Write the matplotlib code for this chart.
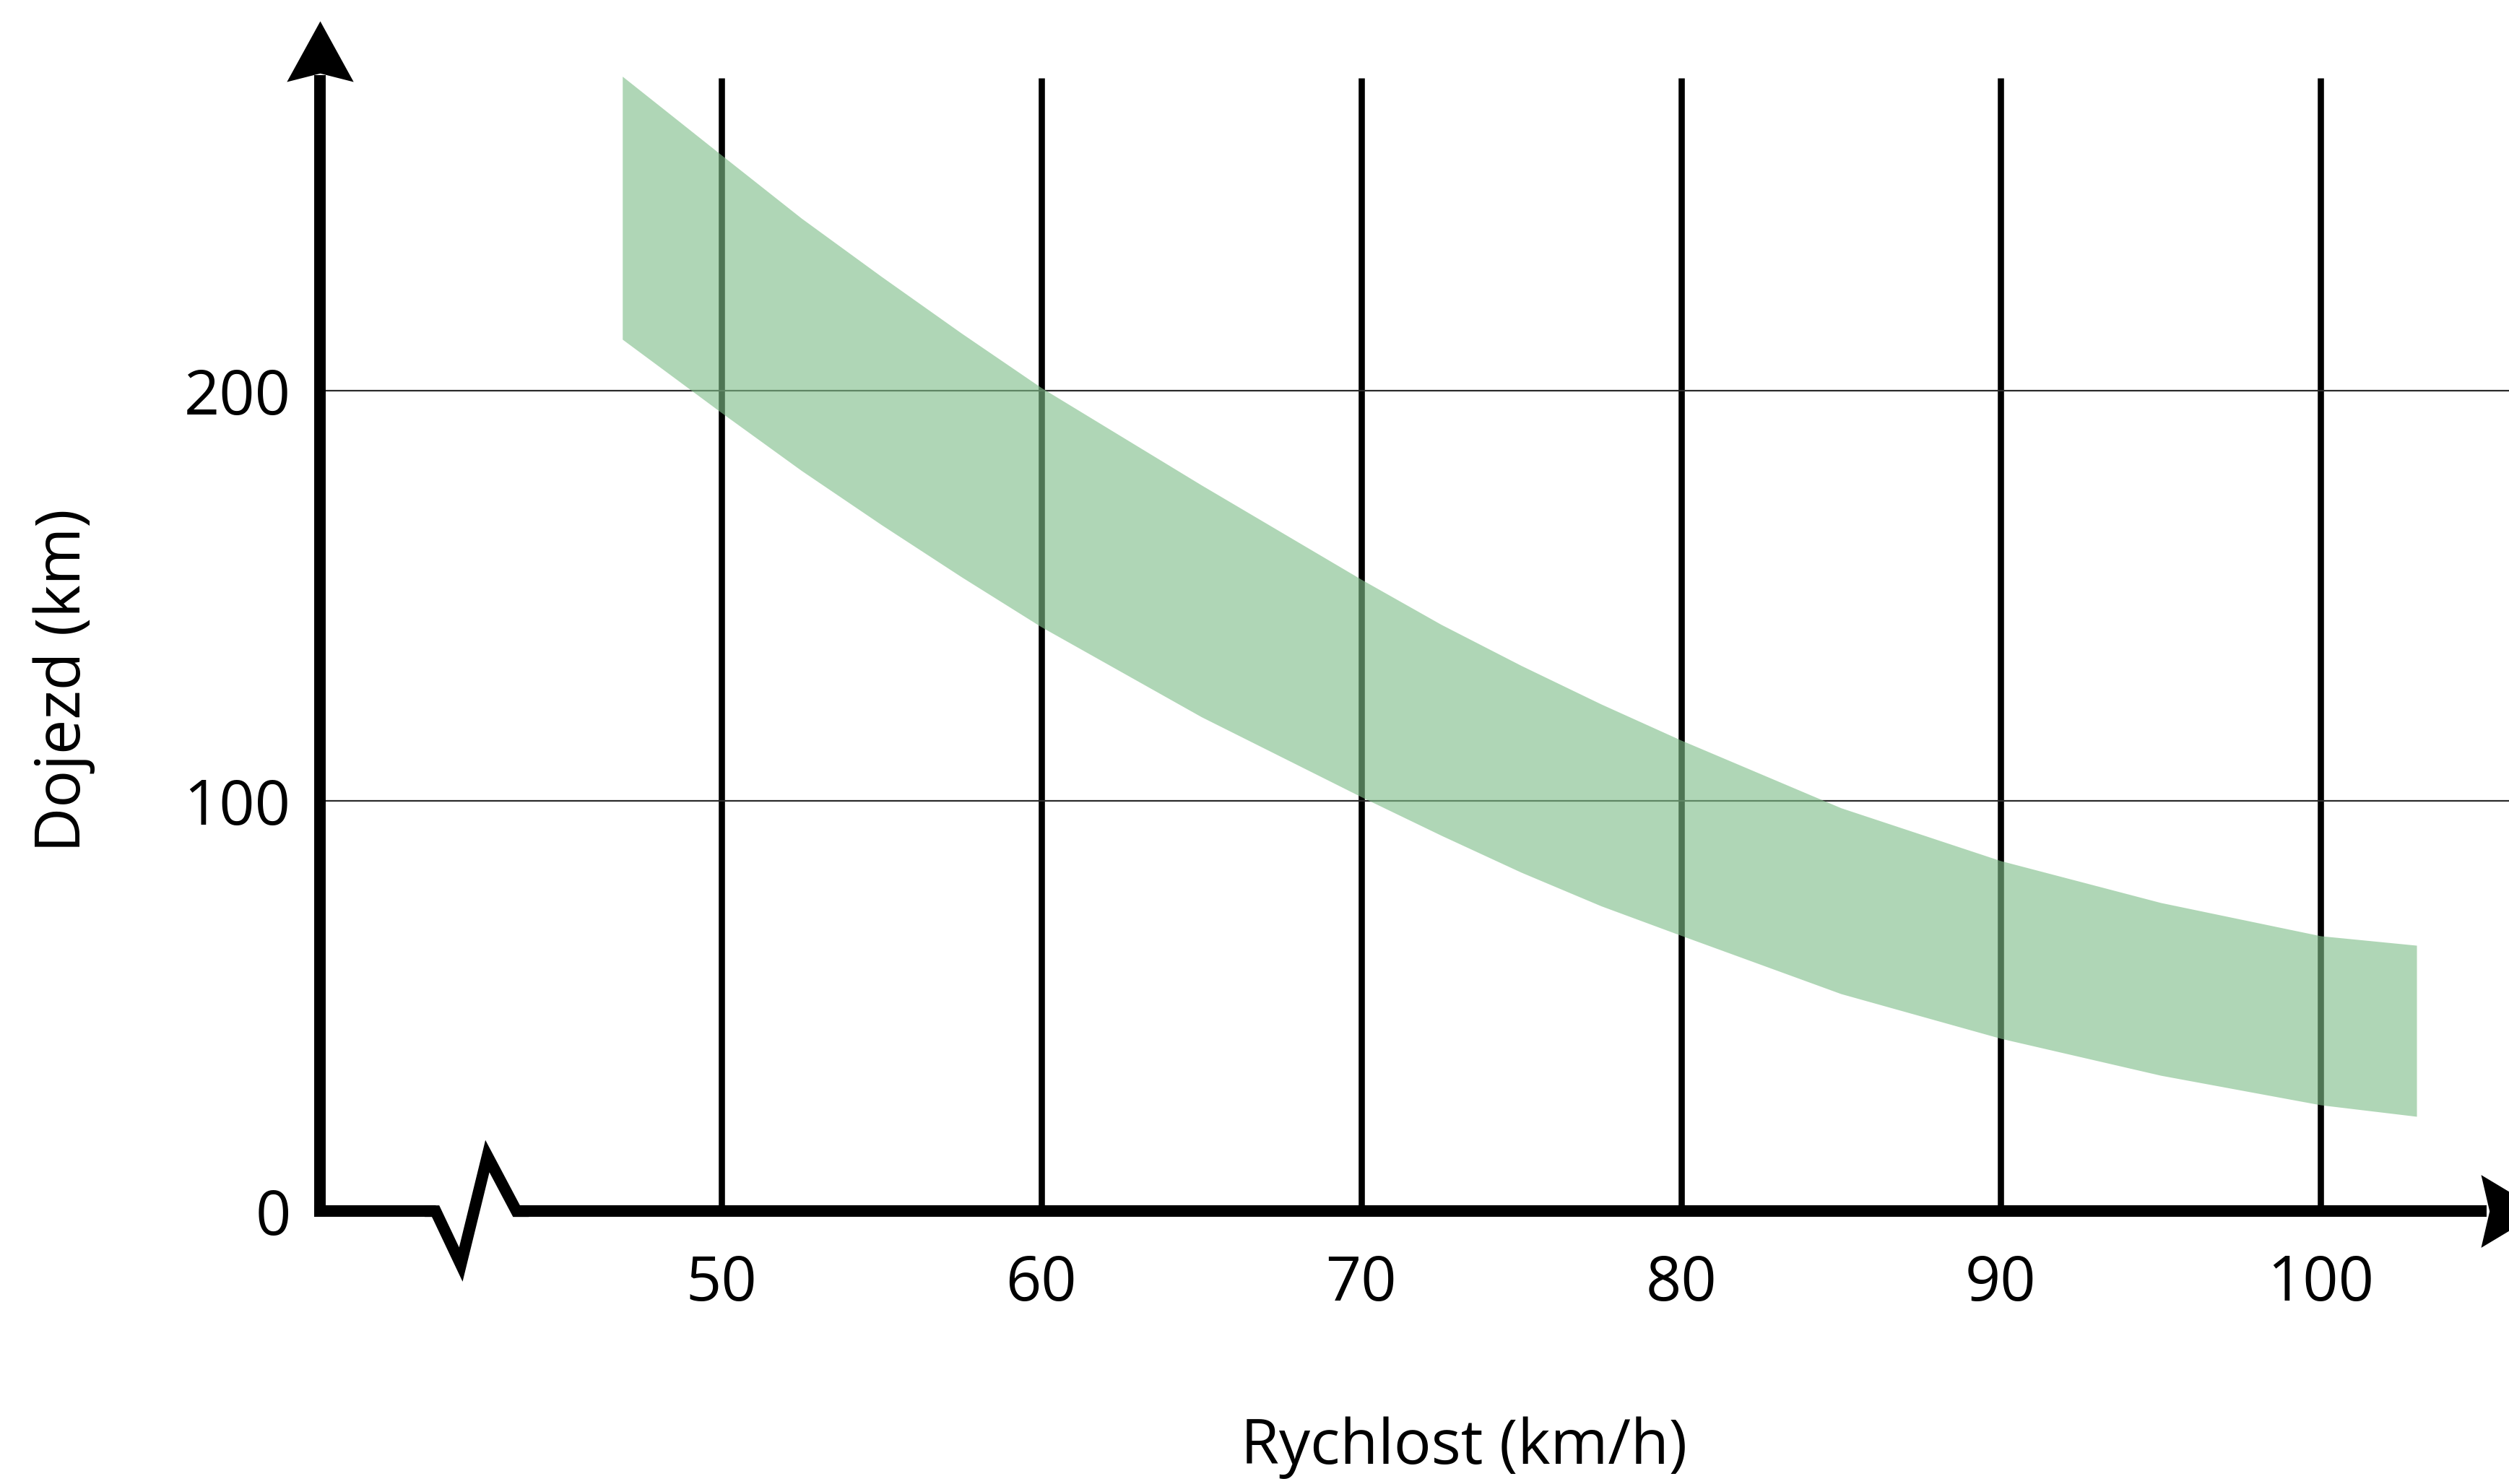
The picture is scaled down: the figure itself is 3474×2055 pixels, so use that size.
import matplotlib
matplotlib.use("Agg")
import matplotlib.pyplot as plt
from matplotlib.path import Path
from matplotlib.markers import MarkerStyle

plt.rcParams['font.family'] = ['Open Sans', 'DejaVu Sans']

# Pásmo dojezdu podle rychlosti
rychlost = [46.9, 50, 52.5, 55, 57.5, 60, 65, 70, 72.5, 75, 77.5, 80, 85, 90, 95, 100, 103.0]
dojezd_max = [276.6, 257.4, 242.0, 227.8, 214.0, 200.7, 177.0, 154.0, 143.0, 133.0, 123.6,
              114.8, 98.3, 85.4, 75.2, 67.1, 64.8]
dojezd_min = [212.5, 194.6, 180.5, 167.3, 154.6, 142.4, 120.5, 101.0, 91.6, 82.6, 74.4,
              67.2, 53.0, 42.1, 33.1, 25.9, 23.1]

x_ticks = [50, 60, 70, 80, 90, 100]
y_ticks = [0, 100, 200]

fig = plt.figure(figsize=(34.74, 20.55), dpi=100)
ax = fig.add_axes([0, 0, 1, 1])
ax.set_xlim(27.44, 105.89)
ax.set_ylim(-66.5, 295.2)

x0 = 37.44      # poloha svislé osy
y_top = 275.4   # konec svislé osy pod šipkou
x_end = 105.0   # konec vodorovné osy pod šipkou

# mřížka
ax.vlines(x_ticks, 0, 276.2, color='black', linewidth=6.2, zorder=1)
ax.hlines([t for t in y_ticks if t > 0], x0, 105.89, color='#2a2a2a', linewidth=1.6, zorder=1)

# zelené pásmo
ax.fill_between(rychlost, dojezd_min, dojezd_max, color='#7fbe89', alpha=0.62,
                linewidth=0, zorder=2)

# osy
for side in ['top', 'right']:
    ax.spines[side].set_visible(False)
ax.spines['left'].set_position(('data', x0))
ax.spines['bottom'].set_position(('data', 0))
ax.spines['left'].set_bounds(0, y_top)
ax.spines['bottom'].set_bounds(x0, x_end)
for side in ['left', 'bottom']:
    ax.spines[side].set_linewidth(11.5)
    ax.spines[side].set_color('black')
    ax.spines[side].set_capstyle('projecting')
    ax.spines[side].set_zorder(5)

# přerušení osy x
ax.plot([41.06, 43.59], [0, 0], color='white', linewidth=14, solid_capstyle='butt',
        zorder=6, clip_on=False)
ax.plot([40.9, 41.06, 41.85, 42.68, 43.59, 43.8], [0, 0, -13, 13.4, 0, 0],
        color='black', linewidth=11.5, solid_joinstyle='miter', zorder=7, clip_on=False)

# šipky
sipka_nahoru = Path([(0, 0), (-0.55, -1), (0, -0.86), (0.55, -1), (0, 0)],
                    [Path.MOVETO, Path.LINETO, Path.LINETO, Path.LINETO, Path.CLOSEPOLY])
sipka_vpravo = Path([(0, 0), (-1, 0.6), (-0.86, 0), (-1, -0.6), (0, 0)],
                    [Path.MOVETO, Path.LINETO, Path.LINETO, Path.LINETO, Path.CLOSEPOLY])
ax.plot([x0], [290.1], marker=MarkerStyle(sipka_nahoru), markersize=121,
        color='black', markeredgewidth=0, zorder=8, clip_on=False)
ax.plot([106.9], [0], marker=MarkerStyle(sipka_vpravo), markersize=121,
        color='black', markeredgewidth=0, zorder=8, clip_on=False)

# popisky
ax.set_xticks(x_ticks)
ax.set_xticklabels([str(t) for t in x_ticks])
ax.set_yticks(y_ticks)
ax.set_yticklabels([str(t) for t in y_ticks])
ax.tick_params(axis='x', length=0, pad=42, labelsize=62)
ax.tick_params(axis='y', length=0, pad=29, labelsize=62)

ax.set_xlabel('Rychlost (km/h)', fontsize=62)
ax.set_ylabel('Dojezd (km)', fontsize=62)
ax.xaxis.set_label_coords(0.5835, 0.0243)
ax.yaxis.set_label_coords(0.0256, 0.5416)
ax.xaxis.label.set_va('center')
ax.yaxis.label.set_va('center')

fig.savefig('out.png', dpi=100, facecolor='white')
